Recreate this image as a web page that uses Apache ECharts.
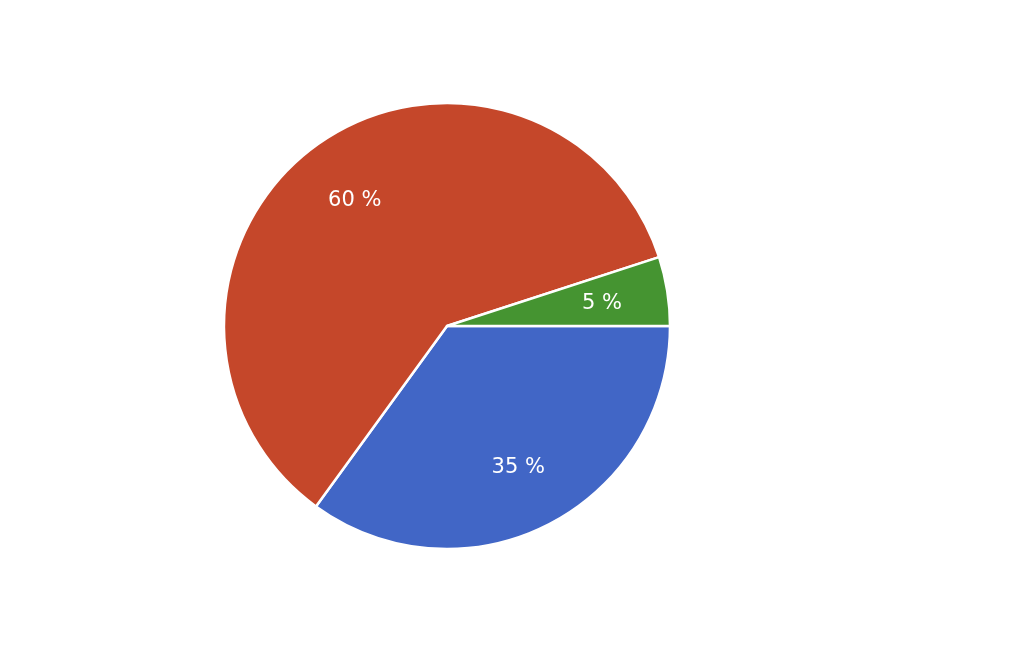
<!DOCTYPE html>
<html>
<head>
<meta charset="utf-8">
<script src="https://cdn.jsdelivr.net/npm/echarts@6/dist/echarts.min.js"></script>
<style>html,body{margin:0;padding:0;background:#fff}#c{width:1024px;height:650px}</style>
</head>
<body>
<div id="c"></div>
<script>
var categories = ['A', 'B', 'C'];
var values = [35, 60, 5];
var colors = ['#4166C6', '#C5472A', '#459431'];

var chart = echarts.init(document.getElementById('c'), null, {renderer: 'canvas'});
var data = categories.map(function (c, i) {
  return {name: c, value: values[i], itemStyle: {color: colors[i]}};
});
var labelData = categories.map(function (c, i) {
  return {name: c, value: values[i]};
});
chart.setOption({
  animation: false,
  backgroundColor: '#ffffff',
  series: [
    {
      type: 'pie',
      center: [447, 326],
      radius: [0, 223],
      startAngle: 0,
      clockwise: true,
      avoidLabelOverlap: false,
      itemStyle: {borderColor: '#ffffff', borderWidth: 2.5},
      label: {show: false},
      labelLine: {show: false},
      silent: true,
      data: data
    },
    {
      type: 'pie',
      center: [447, 328],
      radius: [85, 223],
      startAngle: 0,
      clockwise: true,
      avoidLabelOverlap: false,
      silent: true,
      itemStyle: {color: 'rgba(0,0,0,0)', borderWidth: 0},
      label: {
        show: true,
        position: 'inside',
        formatter: '{c} %',
        color: '#ffffff',
        fontSize: 21,
        fontFamily: '"DejaVu Sans", sans-serif'
      },
      labelLine: {show: false},
      data: labelData
    }
  ]
});
</script>
</body>
</html>
